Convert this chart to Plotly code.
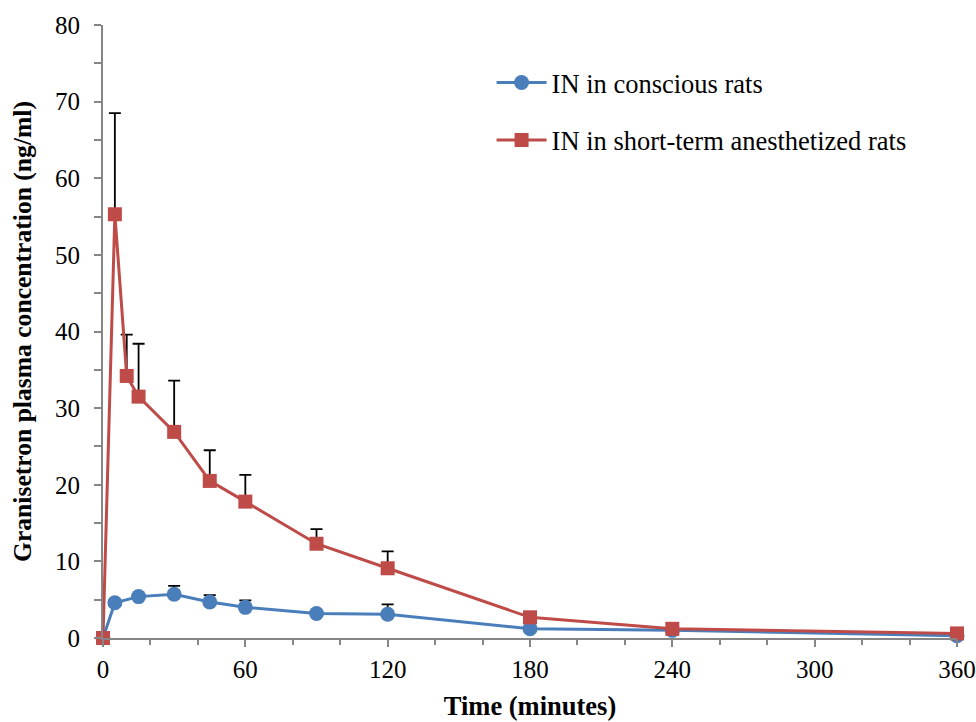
import plotly.graph_objects as go

# Data
t_conscious = [0, 5, 15, 30, 45, 60, 90, 120, 180, 240, 360]
c_conscious = [0, 4.6, 5.4, 5.7, 4.7, 4.0, 3.2, 3.1, 1.2, 1.0, 0.3]
e_conscious = [0, 0.3, 0.3, 1.1, 0.9, 0.9, 0.3, 1.3, 0.2, 0.2, 0.1]

t_anesth = [0, 5, 10, 15, 30, 45, 60, 90, 120, 180, 240, 360]
c_anesth = [0, 55.3, 34.2, 31.5, 26.9, 20.5, 17.8, 12.3, 9.1, 2.7, 1.2, 0.6]
e_anesth = [0, 13.2, 5.4, 6.9, 6.7, 4.0, 3.5, 1.9, 2.2, 0.4, 0.2, 0.1]

x_ticks = [0, 60, 120, 180, 240, 300, 360]
y_ticks = [0, 10, 20, 30, 40, 50, 60, 70, 80]

BLUE = "#4A7EBB"
RED = "#BE4B48"
FONT = "Liberation Serif"

fig = go.Figure()
fig.add_trace(go.Scatter(
    x=t_conscious, y=c_conscious, mode="lines+markers",
    name="IN in conscious rats", legendgroup="a",
    line=dict(color=BLUE, width=3),
    marker=dict(symbol="circle", size=15, color=BLUE),
    error_y=dict(type="data", symmetric=False, array=e_conscious,
                 arrayminus=[0] * len(e_conscious), color="black",
                 thickness=1.8, width=6),
    cliponaxis=False,
))
fig.add_trace(go.Scatter(
    x=t_anesth, y=c_anesth, mode="lines+markers",
    name="IN in short-term anesthetized rats", legendgroup="b",
    line=dict(color=RED, width=3),
    marker=dict(symbol="square", size=14, color=RED),
    error_y=dict(type="data", symmetric=False, array=e_anesth,
                 arrayminus=[0] * len(e_anesth), color="black",
                 thickness=1.8, width=6),
    cliponaxis=False,
))

fig.update_layout(
    width=976, height=722,
    margin=dict(l=103, r=19, t=25, b=84, autoexpand=False),
    paper_bgcolor="white", plot_bgcolor="white",
    font=dict(family=FONT, size=25, color="black"),
    showlegend=True,
    legend=dict(x=0.455, y=0.945, xanchor="left", yanchor="top",
                font=dict(family=FONT, size=26.5, color="black"),
                itemwidth=50, tracegroupgap=20, bgcolor="rgba(0,0,0,0)"),
    xaxis=dict(
        range=[0, 360], tickvals=x_ticks, ticktext=[str(v) for v in x_ticks],
        automargin=False,
        showgrid=False, zeroline=False, showline=True,
        linecolor="#868686", linewidth=2,
        ticks="outside", ticklen=7, tickwidth=2, tickcolor="#868686",
        minor=dict(dtick=20, ticks="outside", ticklen=5, tickwidth=2,
                   tickcolor="#868686", showgrid=False),
        tickfont=dict(family=FONT, size=25),
        ticklabelstandoff=1,
        title=dict(text="<b>Time (minutes)</b>", font=dict(family=FONT, size=26.5),
                   standoff=14),
    ),
    yaxis=dict(
        range=[0, 80], tickvals=y_ticks, ticktext=[str(v) for v in y_ticks],
        automargin=False,
        showgrid=False, zeroline=False, showline=True,
        linecolor="#868686", linewidth=2,
        ticks="outside", ticklen=7, tickwidth=2, tickcolor="#868686",
        minor=dict(dtick=5, ticks="outside", ticklen=7, tickwidth=2,
                   tickcolor="#868686", showgrid=False),
        tickfont=dict(family=FONT, size=25),
        ticklabelstandoff=9,
        title=dict(text="<b>Granisetron plasma concentration (ng/ml)</b>",
                   font=dict(family=FONT, size=25.6), standoff=16),
    ),
)

fig.write_html("out.html")
